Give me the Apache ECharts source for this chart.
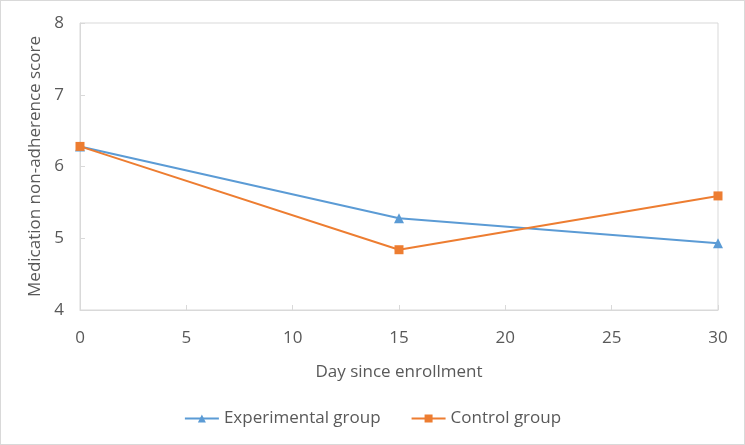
<!DOCTYPE html>
<html><head><meta charset="utf-8">
<script src="https://cdn.jsdelivr.net/npm/echarts@6/dist/echarts.min.js"></script>
<style>html,body{margin:0;padding:0;background:#fff}#c{width:745px;height:445px;box-sizing:border-box;border:1px solid #d9d9d9}</style>
</head><body><div id="c"></div>
<script>
const days = [0, 15, 30];
const experimental = [6.28, 5.28, 4.93];
const control = [6.28, 4.84, 5.59];
const xTicks = {min: 0, max: 30, interval: 5};
const yTicks = {min: 4, max: 8, interval: 1};

const font = '"Open Sans", "Noto Sans", sans-serif';
const txt = '#595959';
const chart = echarts.init(document.getElementById('c'));
chart.setOption({
  animation: false,
  textStyle: {fontFamily: font},
  grid: {left: 79, right: 26, top: 22, bottom: 134, show: true, borderColor: '#d9d9d9', borderWidth: 1},
  legend: {
    bottom: 12, left: 'center', itemGap: 30, itemWidth: 34, itemHeight: 10,
    textStyle: {color: txt, fontSize: 17, fontFamily: font},
    data: ['Experimental group', 'Control group']
  },
  xAxis: {
    type: 'value', min: xTicks.min, max: xTicks.max, interval: xTicks.interval,
    name: 'Day since enrollment', nameLocation: 'middle', nameGap: 54,
    nameTextStyle: {color: txt, fontSize: 17, fontFamily: font},
    axisLine: {show: true, lineStyle: {color: '#d9d9d9'}},
    axisTick: {show: true, inside: true, length: 5, lineStyle: {color: '#d9d9d9'}},
    axisLabel: {color: txt, fontSize: 17, margin: 20},
    splitLine: {show: false}
  },
  yAxis: {
    type: 'value', min: yTicks.min, max: yTicks.max, interval: yTicks.interval,
    name: 'Medication non-adherence score', nameLocation: 'middle', nameGap: 35,
    nameTextStyle: {color: txt, fontSize: 17, fontFamily: font},
    axisLine: {show: true, lineStyle: {color: '#d9d9d9'}},
    axisTick: {show: true, inside: true, length: 5, lineStyle: {color: '#d9d9d9'}},
    axisLabel: {color: txt, fontSize: 17, margin: 16},
    splitLine: {show: false}
  },
  series: [
    {
      name: 'Experimental group', type: 'line',
      data: days.map((d, i) => [d, experimental[i]]),
      symbol: 'triangle', symbolSize: 10,
      lineStyle: {color: '#5B9BD5', width: 2},
      itemStyle: {color: '#5B9BD5'}
    },
    {
      name: 'Control group', type: 'line',
      data: days.map((d, i) => [d, control[i]]),
      symbol: 'rect', symbolSize: 9,
      lineStyle: {color: '#ED7D31', width: 2},
      itemStyle: {color: '#ED7D31'}
    }
  ]
});
</script></body></html>
